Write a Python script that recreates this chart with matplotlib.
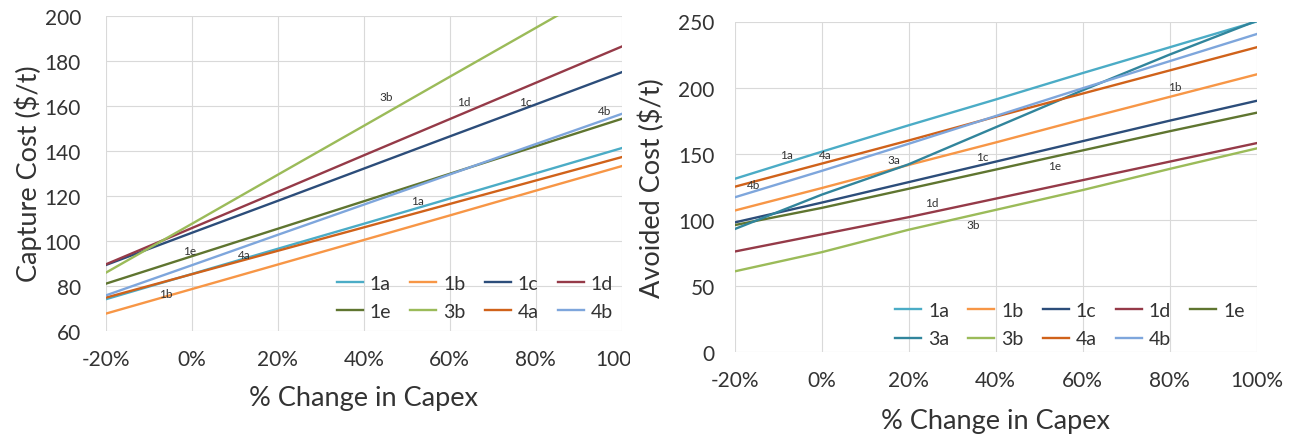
import numpy as np
import matplotlib
matplotlib.use("Agg")
import matplotlib.pyplot as plt
from matplotlib.transforms import Bbox, TransformedBbox

plt.rcParams['font.family'] = ['Lato', 'DejaVu Sans']

# % change in capex
capex = [-20, 0, 20, 40, 60, 80, 100]

# capture cost ($/t), left panel
cap_1a = [74, 85.2, 96.4, 107.5, 118.7, 129.9, 141.1]
cap_1b = [67.6, 78.5, 89.4, 100.3, 111.2, 122.2, 133.1]
cap_1c = [89.2, 103.5, 117.7, 132, 146.3, 160.5, 174.8]
cap_1d = [89.5, 105.6, 121.7, 137.9, 154, 170.1, 186.2]
cap_1e = [80.9, 93.1, 105.3, 117.5, 129.7, 141.9, 154.1]
cap_3b = [85.8, 107.5, 129.3, 151, 172.8, 194.5, 216.3]
cap_4a = [74.7, 85.1, 95.5, 105.9, 116.3, 126.7, 137.1]
cap_4b = [75.7, 89.1, 102.6, 116, 129.4, 142.9, 156.3]

# avoided cost ($/t), right panel
av_1a = [131, 151.5, 171.5, 191, 211, 230.5, 250]
av_1b = [107, 124, 141.5, 158.5, 176, 193, 210]
av_1c = [98, 113, 128.5, 144, 159.5, 175, 190]
av_1d = [76, 89, 102, 116, 130, 144, 158]
av_1e = [96, 109, 123.5, 138, 152.5, 167, 181]
av_3a = [93, 119, 142, 170, 198, 225, 250.5]
av_3b = [61, 75.5, 92.5, 107.5, 122.5, 138.5, 154]
av_4a = [125, 142.5, 160, 178, 195.5, 213, 230.5]
av_4b = [117, 137, 157.5, 178.5, 199.5, 220, 240.5]

colors = {'1a': '#4bacc6', '1b': '#f79646', '1c': '#2c4d7a', '1d': '#953a48',
          '1e': '#5f7530', '3a': '#31859c', '3b': '#9bbb59', '4a': '#d0621a',
          '4b': '#7ea6dc'}

left_series = {'1a': cap_1a, '1b': cap_1b, '1c': cap_1c, '1d': cap_1d,
               '1e': cap_1e, '3b': cap_3b, '4a': cap_4a, '4b': cap_4b}
right_series = {'1a': av_1a, '1b': av_1b, '1c': av_1c, '1d': av_1d, '1e': av_1e,
                '3a': av_3a, '3b': av_3b, '4a': av_4a, '4b': av_4b}

# where the small in-plot labels sit (data coords)
left_tags = {'3b': (45.3, 164), '1d': (63.3, 162), '1c': (77.5, 162),
             '4b': (96, 158), '1a': (52.6, 118), '1e': (-0.5, 95.7),
             '4a': (12.1, 93.8), '1b': (-6.1, 76.5)}
right_tags = {'1a': (-8.1, 149.3), '4a': (0.9, 149.3), '4b': (-15.7, 126.5),
              '3a': (16.5, 145.5), '1c': (37, 147.6), '1e': (53.5, 141.2),
              '1b': (81.1, 200.5), '1d': (25.4, 113.1), '3b': (34.8, 96.1)}

txt = '#333333'
W, H = 1298, 435
fig = plt.figure(figsize=(W / 100, H / 100), dpi=100)

ax1 = fig.add_axes([106 / W, 1 - 331.7 / H, 515.7 / W, 315.2 / H])
ax2 = fig.add_axes([734.7 / W, 1 - 353 / H, 522 / W, 330.5 / H])


def setup(ax, series, tags, ylim, ystep, ylabel, order, ypad, leg_xy, ylab_x, xlab_y):
    for name, vals in series.items():
        ax.plot(capex, vals, color=colors[name], lw=1.7, label=name)
    for name, (x, y) in tags.items():
        ax.text(x, y, name, fontsize=8.5, color=txt, ha='center', va='center')
    ax.set_xlim(-20, 100)
    ax.set_ylim(*ylim)
    ax.set_xticks(capex)
    ax.set_xticklabels([f'{c}%' for c in capex])
    ax.set_yticks(np.arange(ylim[0], ylim[1] + 1, ystep))
    ax.grid(True, color='#d9d9d9', lw=0.8)
    ax.set_axisbelow(True)
    for s in ax.spines.values():
        s.set_visible(False)
    ax.tick_params(axis='both', length=0, labelsize=15, labelcolor=txt)
    ax.tick_params(axis='y', pad=ypad)
    ax.tick_params(axis='x', pad=13)
    ax.set_ylabel(ylabel, fontsize=19.5, color=txt, va='center')
    ax.yaxis.set_label_coords(ylab_x, 0.5)
    ax.set_xlabel('% Change in Capex', fontsize=19.5, color=txt, va='center')
    ax.xaxis.set_label_coords(0.5, xlab_y)
    handles, labels = ax.get_legend_handles_labels()
    hmap = dict(zip(labels, handles))
    ax.legend([hmap[n] for n in order], order, ncol=len(order) // 2 + len(order) % 2,
              loc='upper left', bbox_to_anchor=leg_xy, frameon=False, fontsize=14,
              handlelength=1.35, handletextpad=0.35, columnspacing=0.98,
              labelspacing=0.6, borderpad=0, borderaxespad=0, labelcolor=txt)


setup(ax1, left_series, left_tags, (60, 200), 20, 'Capture Cost ($/t)',
      ['1a', '1e', '1b', '3b', '1c', '4a', '1d', '4b'], 18,
      (0.447, 0.178), (28 - 106) / 515.7, -(399 - 331.7) / 315.2)
setup(ax2, right_series, right_tags, (0, 250), 50, 'Avoided Cost ($/t)',
      ['1a', '3a', '1b', '3b', '1c', '4a', '1d', '4b', '1e'], 14.5,
      (0.307, 0.152), (652 - 734.7) / 522, -(421 - 353) / 330.5)

# the left chart is cut off on its right side
clip = TransformedBbox(Bbox([[0, 0], [630 / W, 1]]), fig.transFigure)
for lbl in ax1.get_xticklabels():
    lbl.set_clip_box(clip)
    lbl.set_clip_on(True)

fig.savefig('out.png', dpi=100)
